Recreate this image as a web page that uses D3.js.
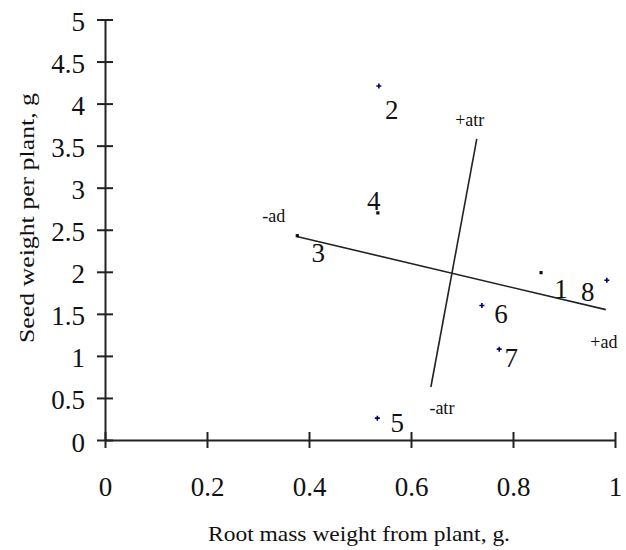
<!DOCTYPE html>
<html>
<head>
<meta charset="utf-8">
<script src="https://cdn.jsdelivr.net/npm/d3@7"></script>
<style>
  body { margin: 0; background: white; }
  text { font-family: "Liberation Serif", "Times New Roman", serif; fill: #111; }
</style>
</head>
<body>
<div id="container"></div>
<script>
// plant numbers, root mass (x) and seed weight (y)
const plantNames = ["1", "2", "3", "4", "5", "6", "7", "8"];
const rootMass = [0.855, 0.537, 0.377, 0.535, 0.534, 0.739, 0.773, 0.984];
const seedWeight = [1.99, 4.21, 2.43, 2.70, 0.26, 1.60, 1.08, 1.90];
const markerKind = ["dot", "plus", "dot", "dot", "plus", "plus", "plus", "plus"];

// the two factor lines (ad, atr): x and y of the two ends
const adLine = [[0.376, 2.42], [0.982, 1.55]];
const atrLine = [[0.639, 0.63], [0.729, 3.58]];

const xTicks = [0, 0.2, 0.4, 0.6, 0.8, 1];
const yTicks = [0, 0.5, 1, 1.5, 2, 2.5, 3, 3.5, 4, 4.5, 5];

// label offsets from each marker (px)
const labelDx = [20, 13, 21, -4, 20, 19, 12, -19];
const labelDy = [16, 24, 17, -12, 4, 8, 8, 11];

let w = 626;
let h = 550;

let viz = d3.select("#container").append("svg")
    .attr("width", w)
    .attr("height", h)
    .style("background-color", "white");

let x = d3.scaleLinear().domain([0, 1]).range([105, 615]);
let y = d3.scaleLinear().domain([0, 5]).range([440, 19.5]);

// axes, ticks cross the axis line
let xAxis = viz.append("g")
    .attr("transform", "translate(0," + y(0) + ")")
    .call(d3.axisBottom(x).tickValues(xTicks).tickSize(0).tickFormat(d3.format("~g")));
xAxis.select(".domain").attr("stroke", "#222").attr("stroke-width", 2);
xAxis.selectAll(".tick line").attr("y1", -8).attr("y2", 8).attr("stroke", "#222").attr("stroke-width", 2);
xAxis.selectAll(".tick text")
    .attr("y", 56).attr("dy", 0)
    .style("font-size", "27px");

let yAxis = viz.append("g")
    .attr("transform", "translate(" + x(0) + ",0)")
    .call(d3.axisLeft(y).tickValues(yTicks).tickSize(0).tickPadding(20).tickFormat(d3.format("~g")));
yAxis.select(".domain").attr("stroke", "#222").attr("stroke-width", 2);
yAxis.selectAll(".tick line").attr("x1", -8).attr("x2", 8).attr("stroke", "#222").attr("stroke-width", 2);
yAxis.selectAll(".tick text")
    .attr("dy", 0).attr("y", 11)
    .style("font-size", "27px");

// axis titles
viz.append("text")
    .attr("x", 359).attr("y", 541)
    .attr("text-anchor", "middle")
    .attr("textLength", 302)
    .attr("lengthAdjust", "spacingAndGlyphs")
    .style("font-size", "22px")
    .text("Root mass weight from plant, g.");

viz.append("text")
    .attr("transform", "translate(34,218) rotate(-90)")
    .attr("text-anchor", "middle")
    .attr("textLength", 250)
    .attr("lengthAdjust", "spacingAndGlyphs")
    .style("font-size", "22px")
    .text("Seed weight per plant, g");

// factor lines
let lineMaker = d3.line().x(d => x(d[0])).y(d => y(d[1]));
[adLine, atrLine].forEach(function(l) {
  viz.append("path")
      .attr("d", lineMaker(l))
      .attr("fill", "none")
      .attr("stroke", "#222")
      .attr("stroke-width", 1.6);
});

// line end labels
let endLabels = [
  {t: "-ad", p: adLine[0], dx: -23, dy: -14},
  {t: "+ad", p: adLine[1], dx: -2, dy: 38},
  {t: "+atr", p: atrLine[1], dx: -7, dy: -13},
  {t: "-atr", p: atrLine[0], dx: 11, dy: 27}
];
viz.selectAll(".endlab").data(endLabels).enter()
  .append("text")
    .attr("class", "endlab")
    .attr("x", d => x(d.p[0]) + d.dx)
    .attr("y", d => y(d.p[1]) + d.dy)
    .attr("text-anchor", "middle")
    .style("font-size", "18px")
    .text(d => d.t);

// markers
let idx = d3.range(plantNames.length);
idx.forEach(function(i) {
  let cx = x(rootMass[i]), cy = y(seedWeight[i]);
  if (markerKind[i] == "plus") {
    viz.append("path")
        .attr("d", "M" + (cx - 2.5) + "," + cy + "h5M" + cx + "," + (cy - 2.5) + "v5")
        .attr("stroke", "#000070")
        .attr("stroke-width", 1.6);
  } else {
    viz.append("rect")
        .attr("x", cx - 1.6).attr("y", cy - 1.6)
        .attr("width", 3.2).attr("height", 3.2)
        .attr("fill", "#111");
  }
});

// plant numbers
viz.selectAll(".plant").data(idx).enter()
  .append("text")
    .attr("class", "plant")
    .attr("x", i => x(rootMass[i]) + labelDx[i])
    .attr("y", i => y(seedWeight[i]) + labelDy[i])
    .attr("text-anchor", "middle")
    .attr("dy", "0.35em")
    .style("font-size", "27px")
    .text(i => plantNames[i]);
</script>
</body>
</html>
